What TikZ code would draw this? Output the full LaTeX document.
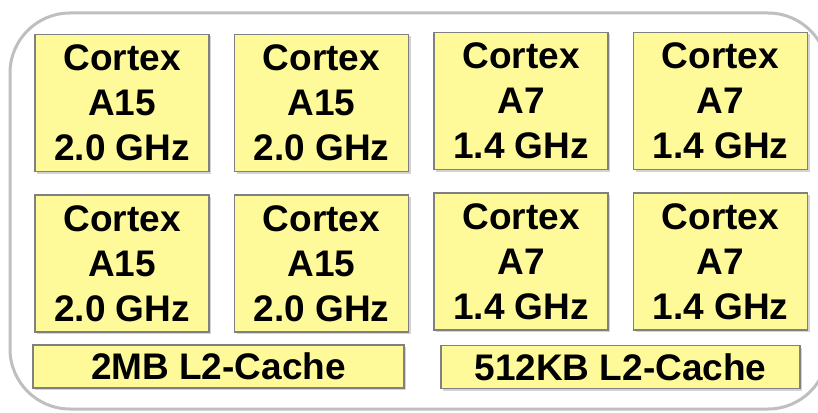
\documentclass[tikz,border=0pt]{standalone}
\usepackage{fontspec}
\setmainfont{Liberation Sans}
\usetikzlibrary{positioning, shadows}

\begin{document}
\begin{tikzpicture}[
    x=1pt, y=-1pt,
    node distance=22pt and 24pt,
    core/.style={rectangle, draw=black!50, line width=1.5pt, fill=yellow!40, minimum width=174pt, minimum height=137pt, inner sep=0pt, align=center, font=\bfseries\fontsize{37}{45}\selectfont, drop shadow={shadow xshift=2pt, shadow yshift=-2pt, opacity=0.35}},
    cache/.style={core, minimum height=43pt},
    chip/.style={draw=black!25, line width=3pt, rounded corners=60pt}
]
\useasboundingbox (0,0) rectangle (818,412);

\draw[chip] (10,13) rectangle (828,409);

\node[core] (a15a) at (122,103) {Cortex\\A15\\2.0 GHz};
\node[core, right=of a15a] (a15b) {Cortex\\A15\\2.0 GHz};
\node[core, right=of a15b, yshift=2pt] (a7a) {Cortex\\A7\\1.4 GHz};
\node[core, right=of a7a] (a7b) {Cortex\\A7\\1.4 GHz};

\node[core, below=of a15a] (a15c) {Cortex\\A15\\2.0 GHz};
\node[core, below=of a15b] (a15d) {Cortex\\A15\\2.0 GHz};
\node[core, below=of a7a] (a7c) {Cortex\\A7\\1.4 GHz};
\node[core, below=of a7b] (a7d) {Cortex\\A7\\1.4 GHz};

\node[cache, minimum width=371pt] (bigcache) at (218.5,366.5) {2MB L2-Cache};
\node[cache, minimum width=359pt] (littlecache) at (620.5,367) {512KB L2-Cache};

\end{tikzpicture}
\end{document}
